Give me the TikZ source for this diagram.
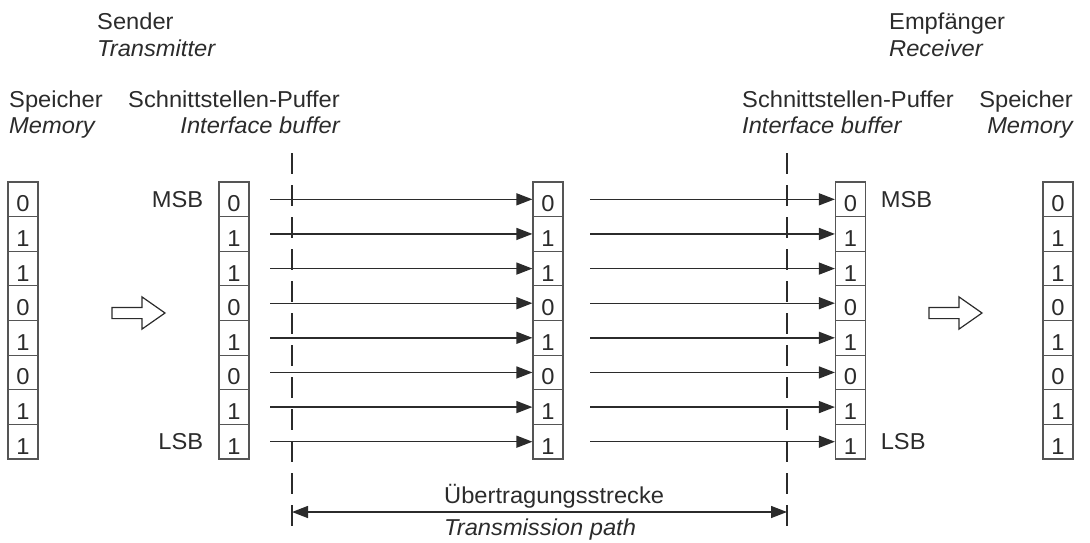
\documentclass[tikz,border=0pt]{standalone}
\usepackage{fontspec}
\setmainfont{Liberation Sans}[FakeStretch=1.03]
\usetikzlibrary{arrows.meta,shapes.arrows}
\definecolor{inkgray}{HTML}{2B2B2B}
\definecolor{cellborder}{HTML}{555555}

\begin{document}
\begin{tikzpicture}[
  x=1pt, y=-1pt,
  font=\fontsize{23}{27}\selectfont,
  >={Triangle[length=16pt,width=12pt]},
  cell/.style={
    draw=cellborder,
    line width=1.2pt,
    minimum width=30pt,
    minimum height=34.625pt,
    inner sep=0pt,
    text height=25pt,
    text depth=0pt,
    text=inkgray
  },
  caption/.style={inner sep=0pt, text=inkgray},
  wire/.style={->, line width=1.4pt, draw=inkgray},
  boundary/.style={line width=1.3pt, draw=inkgray, dash pattern=on 21pt off 11pt},
  hollow/.style={
    draw=inkgray,
    line width=1.2pt,
    single arrow,
    single arrow tip angle=70,
    single arrow head extend=10.5pt,
    minimum height=53pt,
    inner sep=5pt
  }
]
  \useasboundingbox (0,0) rectangle (1090,543);

  % Headings: sender and receiver
  \node[caption, anchor=base west] (sender) at (97,30) {Sender};
  \node[caption, anchor=base west] (transmitter) at (97,57) {\itshape Transmitter};
  \node[caption, anchor=base west] (empf) at (889,30) {Empfänger};
  \node[caption, anchor=base west] (receiver) at (889,57) {\itshape Receiver};

  % --- Column headings ---
  \node[caption, anchor=base west] (mem-l-de) at (9,107) {Speicher};
  \node[caption, anchor=base west] (mem-l-en) at (9,133) {\itshape Memory};
  \node[caption, anchor=base east] (buf-l-de) at (340,107) {Schnittstellen-Puffer};
  \node[caption, anchor=base east] (buf-l-en) at (340,133) {\itshape Interface buffer};
  \node[caption, anchor=base west] (buf-r-de) at (742,107) {Schnittstellen-Puffer};
  \node[caption, anchor=base west] (buf-r-en) at (742,133) {\itshape Interface buffer};
  \node[caption, anchor=base east] (mem-r-de) at (1073,107) {Speicher};
  \node[caption, anchor=base east] (mem-r-en) at (1073,133) {\itshape Memory};

  % --- Bit cells and parallel lines ---
  \foreach \b [count=\i] in {0,1,1,0,1,0,1,1} {
    \node[cell] (meml-\i) at (23, 164.7+34.625*\i) {\b};
    \node[cell] (sbuf-\i) at (234, 164.7+34.625*\i) {\b};
    \node[cell] (mid-\i) at (548, 164.7+34.625*\i) {\b};
    \node[cell] (rbuf-\i) at (850.5, 164.7+34.625*\i) {\b};
    \node[cell] (memr-\i) at (1058, 164.7+34.625*\i) {\b};
    \coordinate (lsrc-\i) at (270, 164.7+34.625*\i);
    \coordinate (rsrc-\i) at (590, 164.7+34.625*\i);
    \draw[wire] (lsrc-\i) -- (mid-\i.west);
    \draw[wire] (rsrc-\i) -- (rbuf-\i.west);
  }

  % MSB / LSB markers
  \node[caption, anchor=east] (msb-l) at ([xshift=-15pt]sbuf-1.west) {MSB};
  \node[caption, anchor=east] (lsb-l) at ([xshift=-15pt]sbuf-8.west) {LSB};
  \node[caption, anchor=west] (msb-r) at ([xshift=14.5pt]rbuf-1.east) {MSB};
  \node[caption, anchor=west] (lsb-r) at ([xshift=14.5pt]rbuf-8.east) {LSB};

  % Hollow transfer arrows
  \node[hollow] (load) at (134.5,313) {};
  \node[hollow] (store) at (951.5,313) {};

  % Boundaries of the transmission path
  \coordinate (bl-top) at (292,153);
  \coordinate (bl-bot) at (292,528);
  \coordinate (br-top) at (787,153);
  \coordinate (br-bot) at (787,528);
  \draw[boundary] (bl-top) -- (bl-bot);
  \draw[boundary] (br-top) -- (br-bot);

  \coordinate (path-l) at (292,512);
  \coordinate (path-r) at (787,512);
  \draw[<->, line width=1.4pt, draw=inkgray] (path-l) -- (path-r);
  \node[caption, anchor=base west] (path-de) at (444,503) {Übertragungsstrecke};
  \node[caption, anchor=base west] (path-en) at (444,535) {\itshape Transmission path};

\end{tikzpicture}
\end{document}
